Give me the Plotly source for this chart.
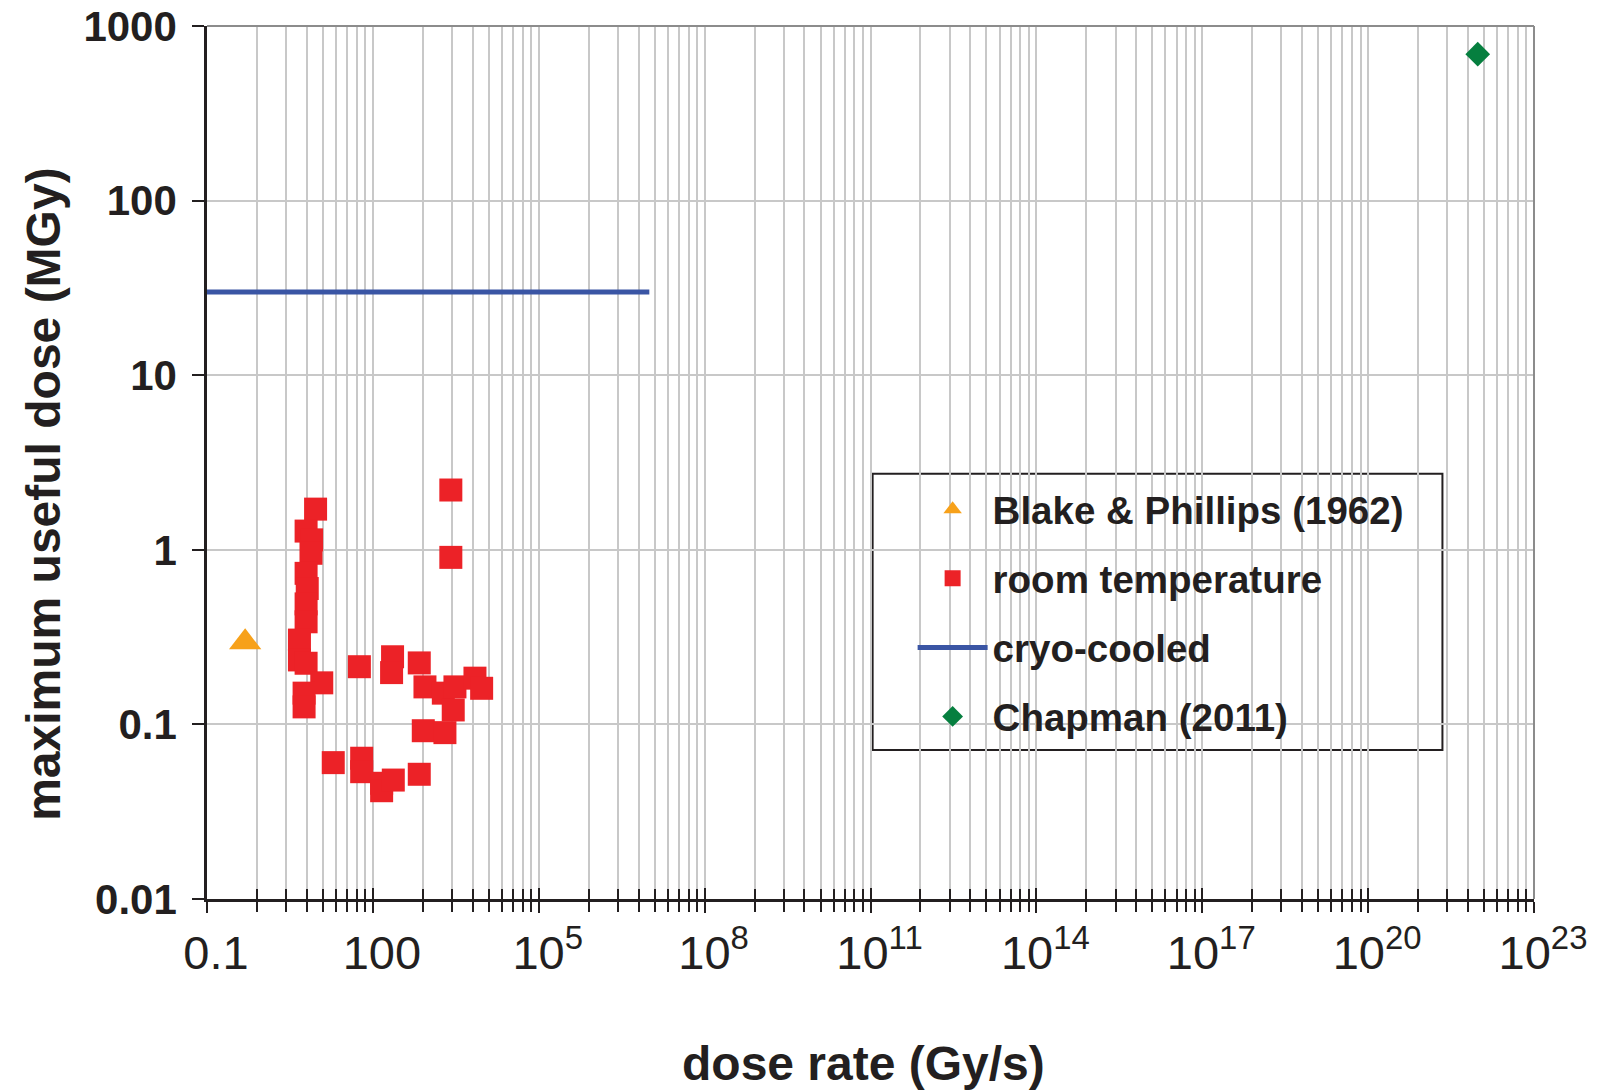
import plotly.graph_objects as go

# ---- data -------------------------------------------------------------
# Blake & Phillips (1962)
blake_rate = [0.49]
blake_dose = [0.295]

# room-temperature crystals: dose rate (Gy/s) and maximum useful dose (MGy)
rt_rate = [9.2, 6.2, 7.8, 7.6, 6.2, 6.5, 6.2, 6.2, 4.7, 4.7, 6.2, 11.9, 5.7, 5.7,
           57, 227, 218, 690, 875, 1880, 3050, 7020, 9270, 2840, 816, 2010,
           19.2, 62.7, 62.7, 144, 144, 234, 690, 2570, 2570]
rt_dose = [1.71, 1.28, 1.14, 0.955, 0.733, 0.60, 0.49, 0.387, 0.304, 0.234, 0.224, 0.173, 0.151, 0.126,
           0.214, 0.244, 0.198, 0.225, 0.164, 0.151, 0.164, 0.184, 0.161, 0.121, 0.092, 0.0897,
           0.0604, 0.064, 0.0536, 0.046, 0.0417, 0.048, 0.0518, 2.2, 0.905]

# cryo-cooled limit
cryo_rate = [0.1, 1e7]
cryo_dose = [30, 30]

# Chapman (2011)
chapman_rate = [9.6e21]
chapman_dose = [690]

# axis ticks: labelled every third decade, Excel-style minor ticks between
x_major_exp = list(range(-1, 24, 3))
x_tick_text = ["0.1", "100"] + [f"10<sup>{e}</sup>" for e in x_major_exp[2:]]
y_tick_vals = [0.01, 0.1, 1, 10, 100, 1000]
y_tick_text = ["0.01", "0.1", "1", "10", "100", "1000"]

x_major_vals = [10.0 ** e for e in x_major_exp]
x_minor_vals = [10.0 ** e * k ** 3 for e in x_major_exp[:-1] for k in range(2, 10)]

INK = "#231F20"
GRID = "#C8C8C8"
FONT = "Liberation Sans, Arial, Helvetica, sans-serif"

fig = go.Figure()
fig.add_trace(go.Scatter(
    x=blake_rate, y=blake_dose, mode="markers", name="Blake & Phillips (1962)",
    legendgroup="a", marker=dict(symbol="triangle-up", size=28, color="#F7A11A")))
fig.add_trace(go.Scatter(
    x=rt_rate, y=rt_dose, mode="markers", name="room temperature",
    legendgroup="b", marker=dict(symbol="square", size=23, color="#EC2227")))
fig.add_trace(go.Scatter(
    x=cryo_rate, y=cryo_dose, mode="lines", name="cryo-cooled",
    legendgroup="c", line=dict(color="#3A55A4", width=5)))
fig.add_trace(go.Scatter(
    x=chapman_rate, y=chapman_dose, mode="markers", name="Chapman (2011)",
    legendgroup="d", xaxis="x2",
    marker=dict(symbol="diamond", size=19, color="#067F3F")))

fig.update_layout(
    width=1604, height=1092,
    margin=dict(l=207, r=70, t=26, b=193),
    paper_bgcolor="white", plot_bgcolor="white",
    font=dict(family=FONT, color=INK),
    showlegend=True,
    legend=dict(
        x=0.5016, y=0.4825, xanchor="left", yanchor="top",
        bgcolor="rgba(0,0,0,0)", borderwidth=0,
        font=dict(size=38.5, weight="bold", color=INK),
        traceorder="grouped", tracegroupgap=16,
        itemwidth=70, indentation=40,
    ),
    xaxis=dict(
        type="log", range=[-1, 23], automargin=False,
        tickmode="array", tickvals=x_major_vals, ticktext=x_tick_text,
        ticks="outside", ticklen=11, tickwidth=2, tickcolor=INK,
        showgrid=True, gridcolor=GRID, gridwidth=2,
        minor=dict(tickmode="array", tickvals=x_minor_vals, ticks="outside",
                   ticklen=10, tickwidth=2, tickcolor=INK,
                   showgrid=True, gridcolor=GRID, gridwidth=2),
        showline=True, linecolor=INK, linewidth=2.5,
        tickfont=dict(size=47, color=INK), ticklabelstandoff=0, ticklabelshift=9,
        zeroline=False,
    ),
    xaxis2=dict(
        type="log", overlaying="x", matches="x", anchor="y", side="bottom",
        automargin=False,
        tickmode="array", tickvals=x_major_vals, showticklabels=False,
        ticks="inside", ticklen=11, tickwidth=2, tickcolor=INK,
        showgrid=False, showline=False, zeroline=False,
        minor=dict(tickmode="array", tickvals=x_minor_vals, ticks="inside",
                   ticklen=10, tickwidth=2, tickcolor=INK, showgrid=False),
    ),
    yaxis=dict(
        type="log", range=[-2, 3], automargin=False,
        tickmode="array", tickvals=y_tick_vals, ticktext=y_tick_text,
        ticks="outside", ticklen=12, tickwidth=2, tickcolor=INK,
        showgrid=True, gridcolor=GRID, gridwidth=2,
        showline=True, linecolor=INK, linewidth=2.5,
        tickfont=dict(size=42, weight="bold", color=INK), ticklabelstandoff=7,
        zeroline=False,
    ),
    annotations=[
        dict(text="<b>dose rate (Gy/s)</b>", xref="paper", yref="paper",
             x=0.4944, y=-0.189, xanchor="center", yanchor="middle", showarrow=False,
             font=dict(size=48, color=INK)),
        dict(text="<b>maximum useful dose (MGy)</b>", xref="paper", yref="paper",
             x=-0.1228, y=0.463, xanchor="center", yanchor="middle", showarrow=False,
             textangle=-90, font=dict(size=48, color=INK)),
    ],
    shapes=[
        # plot-area frame (top and right edges)
        dict(type="line", xref="paper", yref="paper", x0=0, x1=1, y0=1, y1=1,
             line=dict(color="#8C8C8C", width=2)),
        dict(type="line", xref="paper", yref="paper", x0=1, x1=1, y0=0, y1=1,
             line=dict(color="#8C8C8C", width=2)),
        # legend frame
        dict(type="rect", xref="paper", yref="paper", x0=0.5016, x1=0.931, y0=0.1708, y1=0.4872,
             line=dict(color=INK, width=2), fillcolor="white", layer="below"),
    ],
)

fig.write_html("out.html")
